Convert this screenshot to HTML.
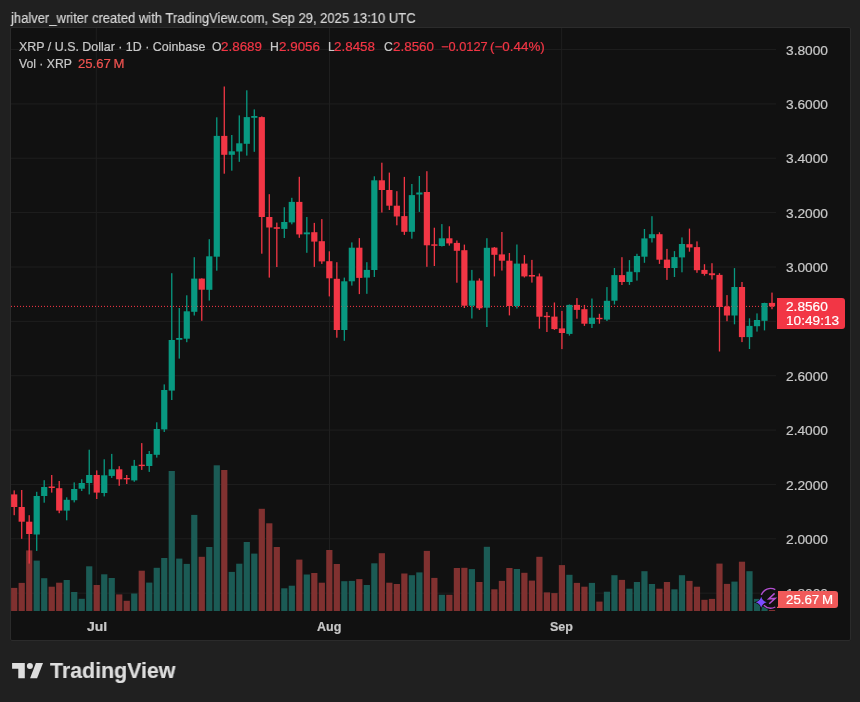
<!DOCTYPE html>
<html><head><meta charset="utf-8">
<style>
*{margin:0;padding:0;box-sizing:border-box}
html,body{width:860px;height:702px;overflow:hidden;background:#202020;font-family:"Liberation Sans",Arial,sans-serif}
.t{position:absolute;white-space:nowrap;line-height:1;transform-origin:0 0;will-change:transform;-webkit-text-stroke:0.2px currentColor}
.abs{position:absolute}
#box{position:absolute;left:10px;top:27px;width:841px;height:614px;border:1px solid #2b2b2b;border-radius:2px;background:#111111}
</style></head><body>
<div id="box"></div>
<svg width="860" height="702" style="position:absolute;left:0;top:0">
<defs><clipPath id="cp"><rect x="11" y="28" width="765" height="583"/></clipPath></defs>
<g clip-path="url(#cp)">
<line x1="11" y1="49.55" x2="776" y2="49.55" stroke="#1f1f1f" stroke-width="1"/>
<line x1="11" y1="103.91" x2="776" y2="103.91" stroke="#1f1f1f" stroke-width="1"/>
<line x1="11" y1="158.27" x2="776" y2="158.27" stroke="#1f1f1f" stroke-width="1"/>
<line x1="11" y1="212.63" x2="776" y2="212.63" stroke="#1f1f1f" stroke-width="1"/>
<line x1="11" y1="266.99" x2="776" y2="266.99" stroke="#1f1f1f" stroke-width="1"/>
<line x1="11" y1="321.35" x2="776" y2="321.35" stroke="#1f1f1f" stroke-width="1"/>
<line x1="11" y1="375.71" x2="776" y2="375.71" stroke="#1f1f1f" stroke-width="1"/>
<line x1="11" y1="430.07" x2="776" y2="430.07" stroke="#1f1f1f" stroke-width="1"/>
<line x1="11" y1="484.43" x2="776" y2="484.43" stroke="#1f1f1f" stroke-width="1"/>
<line x1="11" y1="538.79" x2="776" y2="538.79" stroke="#1f1f1f" stroke-width="1"/>
<line x1="11" y1="593.15" x2="776" y2="593.15" stroke="#1f1f1f" stroke-width="1"/>
<line x1="96.3" y1="28" x2="96.3" y2="611" stroke="#1f1f1f" stroke-width="1"/>
<line x1="329.5" y1="28" x2="329.5" y2="611" stroke="#1f1f1f" stroke-width="1"/>
<line x1="561.7" y1="28" x2="561.7" y2="611" stroke="#1f1f1f" stroke-width="1"/>
<rect x="11.1" y="587.9" width="6.2" height="23.1" fill="#803130"/>
<rect x="18.6" y="582.9" width="6.2" height="28.1" fill="#803130"/>
<rect x="26.11" y="550.4" width="6.2" height="60.6" fill="#803130"/>
<rect x="33.61" y="560.6" width="6.2" height="50.4" fill="#1b5b55"/>
<rect x="41.11" y="578.2" width="6.2" height="32.8" fill="#1b5b55"/>
<rect x="48.62" y="586.7" width="6.2" height="24.3" fill="#803130"/>
<rect x="56.12" y="582.7" width="6.2" height="28.3" fill="#803130"/>
<rect x="63.62" y="580" width="6.2" height="31" fill="#1b5b55"/>
<rect x="71.12" y="592" width="6.2" height="19" fill="#1b5b55"/>
<rect x="78.63" y="598.8" width="6.2" height="12.2" fill="#1b5b55"/>
<rect x="86.13" y="566.3" width="6.2" height="44.7" fill="#1b5b55"/>
<rect x="93.63" y="585" width="6.2" height="26" fill="#803130"/>
<rect x="101.14" y="574.3" width="6.2" height="36.7" fill="#1b5b55"/>
<rect x="108.64" y="578" width="6.2" height="33" fill="#1b5b55"/>
<rect x="116.14" y="594.4" width="6.2" height="16.6" fill="#803130"/>
<rect x="123.65" y="600.8" width="6.2" height="10.2" fill="#803130"/>
<rect x="131.15" y="593.5" width="6.2" height="17.5" fill="#1b5b55"/>
<rect x="138.65" y="570.7" width="6.2" height="40.3" fill="#803130"/>
<rect x="146.15" y="582.6" width="6.2" height="28.4" fill="#1b5b55"/>
<rect x="153.66" y="567.8" width="6.2" height="43.2" fill="#1b5b55"/>
<rect x="161.16" y="558" width="6.2" height="53" fill="#1b5b55"/>
<rect x="168.66" y="471" width="6.2" height="140" fill="#1b5b55"/>
<rect x="176.17" y="558.6" width="6.2" height="52.4" fill="#1b5b55"/>
<rect x="183.67" y="563.9" width="6.2" height="47.1" fill="#1b5b55"/>
<rect x="191.17" y="514.9" width="6.2" height="96.1" fill="#1b5b55"/>
<rect x="198.67" y="556.8" width="6.2" height="54.2" fill="#803130"/>
<rect x="206.18" y="547" width="6.2" height="64" fill="#1b5b55"/>
<rect x="213.68" y="465.3" width="6.2" height="145.7" fill="#1b5b55"/>
<rect x="221.18" y="470" width="6.2" height="141" fill="#803130"/>
<rect x="228.69" y="571.9" width="6.2" height="39.1" fill="#1b5b55"/>
<rect x="236.19" y="563.7" width="6.2" height="47.3" fill="#1b5b55"/>
<rect x="243.69" y="542" width="6.2" height="69" fill="#1b5b55"/>
<rect x="251.2" y="553.6" width="6.2" height="57.4" fill="#1b5b55"/>
<rect x="258.7" y="508.8" width="6.2" height="102.2" fill="#803130"/>
<rect x="266.2" y="523.3" width="6.2" height="87.7" fill="#803130"/>
<rect x="273.7" y="547" width="6.2" height="64" fill="#803130"/>
<rect x="281.21" y="588.3" width="6.2" height="22.7" fill="#1b5b55"/>
<rect x="288.71" y="585.7" width="6.2" height="25.3" fill="#1b5b55"/>
<rect x="296.21" y="559.6" width="6.2" height="51.4" fill="#803130"/>
<rect x="303.72" y="574.5" width="6.2" height="36.5" fill="#1b5b55"/>
<rect x="311.22" y="573" width="6.2" height="38" fill="#803130"/>
<rect x="318.72" y="582.7" width="6.2" height="28.3" fill="#803130"/>
<rect x="326.23" y="550" width="6.2" height="61" fill="#803130"/>
<rect x="333.73" y="564" width="6.2" height="47" fill="#803130"/>
<rect x="341.23" y="581.2" width="6.2" height="29.8" fill="#1b5b55"/>
<rect x="348.73" y="580.9" width="6.2" height="30.1" fill="#1b5b55"/>
<rect x="356.24" y="579.1" width="6.2" height="31.9" fill="#803130"/>
<rect x="363.74" y="585" width="6.2" height="26" fill="#1b5b55"/>
<rect x="371.24" y="563.3" width="6.2" height="47.7" fill="#1b5b55"/>
<rect x="378.75" y="553.2" width="6.2" height="57.8" fill="#803130"/>
<rect x="386.25" y="582.7" width="6.2" height="28.3" fill="#803130"/>
<rect x="393.75" y="584" width="6.2" height="27" fill="#803130"/>
<rect x="401.26" y="573.5" width="6.2" height="37.5" fill="#803130"/>
<rect x="408.76" y="575.2" width="6.2" height="35.8" fill="#1b5b55"/>
<rect x="416.26" y="572.4" width="6.2" height="38.6" fill="#1b5b55"/>
<rect x="423.76" y="550.9" width="6.2" height="60.1" fill="#803130"/>
<rect x="431.27" y="577.9" width="6.2" height="33.1" fill="#803130"/>
<rect x="438.77" y="594.8" width="6.2" height="16.2" fill="#1b5b55"/>
<rect x="446.27" y="594.8" width="6.2" height="16.2" fill="#803130"/>
<rect x="453.78" y="568" width="6.2" height="43" fill="#803130"/>
<rect x="461.28" y="567.8" width="6.2" height="43.2" fill="#803130"/>
<rect x="468.78" y="569.1" width="6.2" height="41.9" fill="#1b5b55"/>
<rect x="476.29" y="582" width="6.2" height="29" fill="#803130"/>
<rect x="483.79" y="546.8" width="6.2" height="64.2" fill="#1b5b55"/>
<rect x="491.29" y="589.3" width="6.2" height="21.7" fill="#803130"/>
<rect x="498.79" y="580.9" width="6.2" height="30.1" fill="#803130"/>
<rect x="506.3" y="568" width="6.2" height="43" fill="#803130"/>
<rect x="513.8" y="569" width="6.2" height="42" fill="#1b5b55"/>
<rect x="521.3" y="572.8" width="6.2" height="38.2" fill="#803130"/>
<rect x="528.81" y="580.6" width="6.2" height="30.4" fill="#803130"/>
<rect x="536.31" y="556.8" width="6.2" height="54.2" fill="#803130"/>
<rect x="543.81" y="592.4" width="6.2" height="18.6" fill="#803130"/>
<rect x="551.32" y="593.1" width="6.2" height="17.9" fill="#803130"/>
<rect x="558.82" y="565.1" width="6.2" height="45.9" fill="#803130"/>
<rect x="566.32" y="574.8" width="6.2" height="36.2" fill="#1b5b55"/>
<rect x="573.83" y="582.9" width="6.2" height="28.1" fill="#803130"/>
<rect x="581.33" y="586.7" width="6.2" height="24.3" fill="#803130"/>
<rect x="588.83" y="582.9" width="6.2" height="28.1" fill="#1b5b55"/>
<rect x="596.33" y="601.6" width="6.2" height="9.4" fill="#803130"/>
<rect x="603.84" y="591.7" width="6.2" height="19.3" fill="#1b5b55"/>
<rect x="611.34" y="575.2" width="6.2" height="35.8" fill="#1b5b55"/>
<rect x="618.84" y="579.9" width="6.2" height="31.1" fill="#803130"/>
<rect x="626.35" y="588.7" width="6.2" height="22.3" fill="#1b5b55"/>
<rect x="633.85" y="582" width="6.2" height="29" fill="#1b5b55"/>
<rect x="641.35" y="571.2" width="6.2" height="39.8" fill="#1b5b55"/>
<rect x="648.86" y="584" width="6.2" height="27" fill="#1b5b55"/>
<rect x="656.36" y="588.7" width="6.2" height="22.3" fill="#803130"/>
<rect x="663.86" y="582" width="6.2" height="29" fill="#803130"/>
<rect x="671.36" y="589.3" width="6.2" height="21.7" fill="#1b5b55"/>
<rect x="678.87" y="575.2" width="6.2" height="35.8" fill="#1b5b55"/>
<rect x="686.37" y="580.9" width="6.2" height="30.1" fill="#803130"/>
<rect x="693.87" y="586.7" width="6.2" height="24.3" fill="#803130"/>
<rect x="701.38" y="599.8" width="6.2" height="11.2" fill="#803130"/>
<rect x="708.88" y="598.9" width="6.2" height="12.1" fill="#803130"/>
<rect x="716.38" y="563.6" width="6.2" height="47.4" fill="#803130"/>
<rect x="723.88" y="583.9" width="6.2" height="27.1" fill="#803130"/>
<rect x="731.39" y="581.6" width="6.2" height="29.4" fill="#1b5b55"/>
<rect x="738.89" y="561.7" width="6.2" height="49.3" fill="#803130"/>
<rect x="746.39" y="571.2" width="6.2" height="39.8" fill="#1b5b55"/>
<rect x="753.9" y="598.9" width="6.2" height="12.1" fill="#1b5b55"/>
<rect x="761.4" y="606.6" width="6.2" height="4.4" fill="#1b5b55"/>
<rect x="768.9" y="610" width="6.2" height="1" fill="#803130"/>
<line x1="11" y1="306.4" x2="776" y2="306.4" stroke="#f23645" stroke-width="1" stroke-dasharray="1 2"/>
<rect x="13.55" y="490.4" width="1.3" height="24.8" fill="#f23645"/>
<rect x="11.1" y="494.4" width="6.2" height="12.6" fill="#f23645"/>
<rect x="21.05" y="490" width="1.3" height="48.8" fill="#f23645"/>
<rect x="18.6" y="507" width="6.2" height="14.7" fill="#f23645"/>
<rect x="28.56" y="515.2" width="1.3" height="48.4" fill="#f23645"/>
<rect x="26.11" y="521.7" width="6.2" height="12.3" fill="#f23645"/>
<rect x="36.06" y="491.8" width="1.3" height="59.1" fill="#089981"/>
<rect x="33.61" y="496" width="6.2" height="38.5" fill="#089981"/>
<rect x="43.56" y="480.2" width="1.3" height="22.5" fill="#089981"/>
<rect x="41.11" y="487" width="6.2" height="9" fill="#089981"/>
<rect x="51.07" y="475" width="1.3" height="17.6" fill="#f23645"/>
<rect x="48.62" y="486.5" width="6.2" height="1.5" fill="#f23645"/>
<rect x="58.57" y="481" width="1.3" height="32.2" fill="#f23645"/>
<rect x="56.12" y="488.2" width="6.2" height="22.4" fill="#f23645"/>
<rect x="66.07" y="497.3" width="1.3" height="23" fill="#089981"/>
<rect x="63.62" y="499.8" width="6.2" height="10.8" fill="#089981"/>
<rect x="73.57" y="482.4" width="1.3" height="20" fill="#089981"/>
<rect x="71.12" y="489" width="6.2" height="11.2" fill="#089981"/>
<rect x="81.08" y="479.3" width="1.3" height="11.7" fill="#089981"/>
<rect x="78.63" y="483" width="6.2" height="5.7" fill="#089981"/>
<rect x="88.58" y="449.7" width="1.3" height="44.7" fill="#089981"/>
<rect x="86.13" y="475" width="6.2" height="8" fill="#089981"/>
<rect x="96.08" y="470.4" width="1.3" height="28.6" fill="#f23645"/>
<rect x="93.63" y="475" width="6.2" height="17.6" fill="#f23645"/>
<rect x="103.59" y="459.3" width="1.3" height="37.1" fill="#089981"/>
<rect x="101.14" y="475.3" width="6.2" height="17.7" fill="#089981"/>
<rect x="111.09" y="453.9" width="1.3" height="24" fill="#089981"/>
<rect x="108.64" y="469.3" width="6.2" height="6.6" fill="#089981"/>
<rect x="118.59" y="466.2" width="1.3" height="19.6" fill="#f23645"/>
<rect x="116.14" y="469.3" width="6.2" height="10" fill="#f23645"/>
<rect x="126.09" y="475" width="1.3" height="9" fill="#f23645"/>
<rect x="123.65" y="478" width="6.2" height="1.4" fill="#f23645"/>
<rect x="133.6" y="459.9" width="1.3" height="21.9" fill="#089981"/>
<rect x="131.15" y="465.8" width="6.2" height="14.6" fill="#089981"/>
<rect x="141.1" y="443.1" width="1.3" height="26.8" fill="#f23645"/>
<rect x="138.65" y="464.7" width="6.2" height="1.4" fill="#f23645"/>
<rect x="148.6" y="451" width="1.3" height="20.9" fill="#089981"/>
<rect x="146.15" y="454" width="6.2" height="12" fill="#089981"/>
<rect x="156.11" y="422.3" width="1.3" height="35.3" fill="#089981"/>
<rect x="153.66" y="429" width="6.2" height="25.8" fill="#089981"/>
<rect x="163.61" y="384.4" width="1.3" height="47.6" fill="#089981"/>
<rect x="161.16" y="390" width="6.2" height="39.4" fill="#089981"/>
<rect x="171.11" y="273.2" width="1.3" height="126.8" fill="#089981"/>
<rect x="168.66" y="340" width="6.2" height="50.6" fill="#089981"/>
<rect x="178.62" y="308" width="1.3" height="50.6" fill="#089981"/>
<rect x="176.17" y="338" width="6.2" height="1.8" fill="#089981"/>
<rect x="186.12" y="295.3" width="1.3" height="46.9" fill="#089981"/>
<rect x="183.67" y="311.3" width="6.2" height="27.4" fill="#089981"/>
<rect x="193.62" y="257.2" width="1.3" height="58.3" fill="#089981"/>
<rect x="191.17" y="278.6" width="6.2" height="33.2" fill="#089981"/>
<rect x="201.12" y="278.3" width="1.3" height="42.5" fill="#f23645"/>
<rect x="198.67" y="278.6" width="6.2" height="11.1" fill="#f23645"/>
<rect x="208.63" y="239.2" width="1.3" height="61.4" fill="#089981"/>
<rect x="206.18" y="256.3" width="6.2" height="33.5" fill="#089981"/>
<rect x="216.13" y="117.3" width="1.3" height="153.4" fill="#089981"/>
<rect x="213.68" y="135.9" width="6.2" height="120.8" fill="#089981"/>
<rect x="223.63" y="86.5" width="1.3" height="87.2" fill="#f23645"/>
<rect x="221.18" y="135.9" width="6.2" height="18.9" fill="#f23645"/>
<rect x="231.14" y="135" width="1.3" height="35.7" fill="#089981"/>
<rect x="228.69" y="151.3" width="6.2" height="3.5" fill="#089981"/>
<rect x="238.64" y="115.4" width="1.3" height="46.4" fill="#089981"/>
<rect x="236.19" y="143.3" width="6.2" height="8.2" fill="#089981"/>
<rect x="246.14" y="90.3" width="1.3" height="65.3" fill="#089981"/>
<rect x="243.69" y="117.1" width="6.2" height="26.7" fill="#089981"/>
<rect x="253.65" y="109.4" width="1.3" height="42.4" fill="#089981"/>
<rect x="251.2" y="116" width="6.2" height="1.8" fill="#089981"/>
<rect x="261.15" y="116.4" width="1.3" height="137.3" fill="#f23645"/>
<rect x="258.7" y="117.1" width="6.2" height="99.9" fill="#f23645"/>
<rect x="268.65" y="194.2" width="1.3" height="83.4" fill="#f23645"/>
<rect x="266.2" y="217" width="6.2" height="10.5" fill="#f23645"/>
<rect x="276.16" y="222.6" width="1.3" height="44.4" fill="#f23645"/>
<rect x="273.7" y="227.2" width="6.2" height="1.6" fill="#f23645"/>
<rect x="283.66" y="207.2" width="1.3" height="30.8" fill="#089981"/>
<rect x="281.21" y="222" width="6.2" height="6.9" fill="#089981"/>
<rect x="291.16" y="197.8" width="1.3" height="26.5" fill="#089981"/>
<rect x="288.71" y="201.9" width="6.2" height="20.5" fill="#089981"/>
<rect x="298.66" y="176.8" width="1.3" height="61" fill="#f23645"/>
<rect x="296.21" y="201.9" width="6.2" height="32.5" fill="#f23645"/>
<rect x="306.17" y="217" width="1.3" height="35.8" fill="#089981"/>
<rect x="303.72" y="232.4" width="6.2" height="1.9" fill="#089981"/>
<rect x="313.67" y="222.9" width="1.3" height="44" fill="#f23645"/>
<rect x="311.22" y="232.2" width="6.2" height="9.4" fill="#f23645"/>
<rect x="321.17" y="219.1" width="1.3" height="44.8" fill="#f23645"/>
<rect x="318.72" y="241.2" width="6.2" height="20.2" fill="#f23645"/>
<rect x="328.68" y="251.3" width="1.3" height="45.1" fill="#f23645"/>
<rect x="326.23" y="261.2" width="6.2" height="17.1" fill="#f23645"/>
<rect x="336.18" y="262.2" width="1.3" height="75.5" fill="#f23645"/>
<rect x="333.73" y="278.8" width="6.2" height="51.2" fill="#f23645"/>
<rect x="343.68" y="277.6" width="1.3" height="63.2" fill="#089981"/>
<rect x="341.23" y="281.3" width="6.2" height="48.7" fill="#089981"/>
<rect x="351.19" y="242.4" width="1.3" height="43.2" fill="#089981"/>
<rect x="348.73" y="247.7" width="6.2" height="33.6" fill="#089981"/>
<rect x="358.69" y="238.1" width="1.3" height="56" fill="#f23645"/>
<rect x="356.24" y="247.7" width="6.2" height="30.2" fill="#f23645"/>
<rect x="366.19" y="262.2" width="1.3" height="31.6" fill="#089981"/>
<rect x="363.74" y="269.9" width="6.2" height="7.7" fill="#089981"/>
<rect x="373.69" y="176.3" width="1.3" height="100.7" fill="#089981"/>
<rect x="371.24" y="180.3" width="6.2" height="89.7" fill="#089981"/>
<rect x="381.2" y="162.7" width="1.3" height="49.8" fill="#f23645"/>
<rect x="378.75" y="180.3" width="6.2" height="9.7" fill="#f23645"/>
<rect x="388.7" y="172.6" width="1.3" height="37.4" fill="#f23645"/>
<rect x="386.25" y="190" width="6.2" height="15.7" fill="#f23645"/>
<rect x="396.2" y="191.2" width="1.3" height="34.1" fill="#f23645"/>
<rect x="393.75" y="205.7" width="6.2" height="10.8" fill="#f23645"/>
<rect x="403.71" y="176.9" width="1.3" height="58" fill="#f23645"/>
<rect x="401.26" y="216.1" width="6.2" height="15.7" fill="#f23645"/>
<rect x="411.21" y="184" width="1.3" height="54.7" fill="#089981"/>
<rect x="408.76" y="195.1" width="6.2" height="36.7" fill="#089981"/>
<rect x="418.71" y="176" width="1.3" height="35.9" fill="#089981"/>
<rect x="416.26" y="192.5" width="6.2" height="2" fill="#089981"/>
<rect x="426.22" y="171.2" width="1.3" height="95.6" fill="#f23645"/>
<rect x="423.76" y="192" width="6.2" height="53.3" fill="#f23645"/>
<rect x="433.72" y="227.7" width="1.3" height="38.3" fill="#f23645"/>
<rect x="431.27" y="244.3" width="6.2" height="1.5" fill="#f23645"/>
<rect x="441.22" y="224.1" width="1.3" height="22.4" fill="#089981"/>
<rect x="438.77" y="238.3" width="6.2" height="7.7" fill="#089981"/>
<rect x="448.72" y="226.3" width="1.3" height="19.3" fill="#f23645"/>
<rect x="446.27" y="238.3" width="6.2" height="5.1" fill="#f23645"/>
<rect x="456.23" y="240.5" width="1.3" height="42.2" fill="#f23645"/>
<rect x="453.78" y="242.9" width="6.2" height="7.9" fill="#f23645"/>
<rect x="463.73" y="244.6" width="1.3" height="63.4" fill="#f23645"/>
<rect x="461.28" y="250.2" width="6.2" height="55.5" fill="#f23645"/>
<rect x="471.23" y="269.9" width="1.3" height="48.6" fill="#089981"/>
<rect x="468.78" y="280.6" width="6.2" height="25.1" fill="#089981"/>
<rect x="478.74" y="278.4" width="1.3" height="31.6" fill="#f23645"/>
<rect x="476.29" y="280.6" width="6.2" height="27.7" fill="#f23645"/>
<rect x="486.24" y="238.2" width="1.3" height="88.8" fill="#089981"/>
<rect x="483.79" y="247.8" width="6.2" height="59.9" fill="#089981"/>
<rect x="493.74" y="247" width="1.3" height="29.4" fill="#f23645"/>
<rect x="491.29" y="247.6" width="6.2" height="7.2" fill="#f23645"/>
<rect x="501.25" y="232" width="1.3" height="38.6" fill="#f23645"/>
<rect x="498.79" y="254.4" width="6.2" height="6.3" fill="#f23645"/>
<rect x="508.75" y="253" width="1.3" height="62.4" fill="#f23645"/>
<rect x="506.3" y="260.7" width="6.2" height="45.3" fill="#f23645"/>
<rect x="516.25" y="244.5" width="1.3" height="64" fill="#089981"/>
<rect x="513.8" y="263.6" width="6.2" height="42.4" fill="#089981"/>
<rect x="523.75" y="255.1" width="1.3" height="22.4" fill="#f23645"/>
<rect x="521.3" y="263.6" width="6.2" height="12.8" fill="#f23645"/>
<rect x="531.26" y="259.9" width="1.3" height="22.7" fill="#f23645"/>
<rect x="528.81" y="275" width="6.2" height="1.6" fill="#f23645"/>
<rect x="538.76" y="273.5" width="1.3" height="55.2" fill="#f23645"/>
<rect x="536.31" y="276.4" width="6.2" height="40.3" fill="#f23645"/>
<rect x="546.26" y="312" width="1.3" height="20" fill="#f23645"/>
<rect x="543.81" y="315.8" width="6.2" height="1.4" fill="#f23645"/>
<rect x="553.77" y="302.5" width="1.3" height="27.4" fill="#f23645"/>
<rect x="551.32" y="316.6" width="6.2" height="12.5" fill="#f23645"/>
<rect x="561.27" y="310.9" width="1.3" height="38.2" fill="#f23645"/>
<rect x="558.82" y="328.4" width="6.2" height="4.6" fill="#f23645"/>
<rect x="568.77" y="304.5" width="1.3" height="31.1" fill="#089981"/>
<rect x="566.32" y="304.9" width="6.2" height="29" fill="#089981"/>
<rect x="576.28" y="298.1" width="1.3" height="20.6" fill="#f23645"/>
<rect x="573.83" y="304.9" width="6.2" height="5" fill="#f23645"/>
<rect x="583.78" y="304.9" width="1.3" height="21" fill="#f23645"/>
<rect x="581.33" y="309.2" width="6.2" height="14.5" fill="#f23645"/>
<rect x="591.28" y="298.5" width="1.3" height="29.5" fill="#089981"/>
<rect x="588.83" y="317.7" width="6.2" height="6.2" fill="#089981"/>
<rect x="598.78" y="313.8" width="1.3" height="9.9" fill="#f23645"/>
<rect x="596.33" y="317.8" width="6.2" height="1.4" fill="#f23645"/>
<rect x="606.29" y="287.1" width="1.3" height="33.9" fill="#089981"/>
<rect x="603.84" y="300.8" width="6.2" height="18.8" fill="#089981"/>
<rect x="613.79" y="268" width="1.3" height="36.5" fill="#089981"/>
<rect x="611.34" y="275.1" width="6.2" height="25.6" fill="#089981"/>
<rect x="621.29" y="257.2" width="1.3" height="27.8" fill="#f23645"/>
<rect x="618.84" y="275.1" width="6.2" height="6.9" fill="#f23645"/>
<rect x="628.8" y="260.1" width="1.3" height="24.8" fill="#089981"/>
<rect x="626.35" y="271.7" width="6.2" height="10.3" fill="#089981"/>
<rect x="636.3" y="253.8" width="1.3" height="26.8" fill="#089981"/>
<rect x="633.85" y="256" width="6.2" height="16.2" fill="#089981"/>
<rect x="643.8" y="229" width="1.3" height="33.8" fill="#089981"/>
<rect x="641.35" y="238.4" width="6.2" height="18.3" fill="#089981"/>
<rect x="651.31" y="216.2" width="1.3" height="26.3" fill="#089981"/>
<rect x="648.86" y="234.2" width="6.2" height="4" fill="#089981"/>
<rect x="658.81" y="232.3" width="1.3" height="31.6" fill="#f23645"/>
<rect x="656.36" y="234.2" width="6.2" height="25.5" fill="#f23645"/>
<rect x="666.31" y="248.9" width="1.3" height="31" fill="#f23645"/>
<rect x="663.86" y="259.6" width="6.2" height="8.4" fill="#f23645"/>
<rect x="673.81" y="251.1" width="1.3" height="25.9" fill="#089981"/>
<rect x="671.36" y="257.1" width="6.2" height="10.9" fill="#089981"/>
<rect x="681.32" y="237.4" width="1.3" height="34.9" fill="#089981"/>
<rect x="678.87" y="244" width="6.2" height="13.4" fill="#089981"/>
<rect x="688.82" y="228.6" width="1.3" height="23.1" fill="#f23645"/>
<rect x="686.37" y="244.2" width="6.2" height="3.3" fill="#f23645"/>
<rect x="696.32" y="241.4" width="1.3" height="31.4" fill="#f23645"/>
<rect x="693.87" y="247.1" width="6.2" height="23.1" fill="#f23645"/>
<rect x="703.83" y="264.2" width="1.3" height="11.4" fill="#f23645"/>
<rect x="701.38" y="269.9" width="6.2" height="4" fill="#f23645"/>
<rect x="711.33" y="263.2" width="1.3" height="16.3" fill="#f23645"/>
<rect x="708.88" y="273.3" width="6.2" height="1.9" fill="#f23645"/>
<rect x="718.83" y="273.2" width="1.3" height="78.3" fill="#f23645"/>
<rect x="716.38" y="274.9" width="6.2" height="32.1" fill="#f23645"/>
<rect x="726.34" y="295.1" width="1.3" height="26.1" fill="#f23645"/>
<rect x="723.88" y="306.5" width="6.2" height="9" fill="#f23645"/>
<rect x="733.84" y="268.1" width="1.3" height="56.2" fill="#089981"/>
<rect x="731.39" y="287" width="6.2" height="28.5" fill="#089981"/>
<rect x="741.34" y="282" width="1.3" height="60.1" fill="#f23645"/>
<rect x="738.89" y="287" width="6.2" height="50.1" fill="#f23645"/>
<rect x="748.84" y="318.3" width="1.3" height="30.7" fill="#089981"/>
<rect x="746.39" y="325.9" width="6.2" height="11.2" fill="#089981"/>
<rect x="756.35" y="313.4" width="1.3" height="18.2" fill="#089981"/>
<rect x="753.9" y="320" width="6.2" height="6.2" fill="#089981"/>
<rect x="763.85" y="302.7" width="1.3" height="27.7" fill="#089981"/>
<rect x="761.4" y="303" width="6.2" height="17.8" fill="#089981"/>
<rect x="771.35" y="292.6" width="1.3" height="16.6" fill="#f23645"/>
<rect x="768.9" y="302.9" width="6.2" height="3.5" fill="#f23645"/>
<line x1="11" y1="306.4" x2="776" y2="306.4" stroke="#f23645" stroke-width="1" stroke-dasharray="1 2" opacity="0.3"/>
</g>
</svg>
<div class="abs" style="left:777px;top:297.7px;width:67.6px;height:31.4px;background:#f23645;border-radius:0 3px 3px 0"></div>
<div class="t" style="left:785.8px;top:586.6px;font-size:13px;color:#c8c8c8;transform:scaleX(1.056)">1.8000</div>
<div class="abs" style="left:777px;top:590.6px;width:60.8px;height:17.2px;background:#f05a5a;border-radius:0 3px 3px 0"></div>
<svg class="abs" style="left:750px;top:584px" width="28" height="28" viewBox="750 584 28 28">
<circle cx="770.6" cy="598.3" r="11" fill="#111111"/>
<path d="M775.3 589.6 A9.9 9.9 0 0 0 761.3 595 M763.8 605.2 A9.9 9.9 0 0 0 775.3 607" fill="none" stroke="#b24fd0" stroke-width="1.4"/>
<path d="M774.6 593.4 L768.8 598.8 L775.2 598.4 L769.2 603.8" fill="none" stroke="#b24fd0" stroke-width="1.5" stroke-linejoin="miter"/>
<path d="M761.2 596.8 Q762.4 601.1 766.7 602.3 Q762.4 603.5 761.2 607.8 Q760.0 603.5 755.7 602.3 Q760.0 601.1 761.2 596.8Z" fill="#7b4dff" stroke="#111111" stroke-width="1.2" paint-order="stroke"/>
</svg>
<svg class="abs" style="left:12px;top:662px" width="32" height="17" viewBox="12 662 32 17">
<path d="M12.1 663 H24.8 V678.3 H18.3 V668.8 H12.1Z" fill="#dedede"/>
<circle cx="29.9" cy="665.9" r="3" fill="#dedede"/>
<path d="M35.9 663 H43 L37.1 678.3 H30.1Z" fill="#dedede"/>
</svg>
<div class="t" style="left:10.8px;top:11.45px;font-size:14px;font-weight:400;color:#d6d6d6;transform:scaleX(0.9290)">jhalver_writer created with TradingView.com, Sep 29, 2025 13:10 UTC</div>
<div class="t" style="left:18.5px;top:40.57px;font-size:12.2px;font-weight:400;color:#c8c8c8;transform:scaleX(1.0200)">XRP / U.S. Dollar · 1D · Coinbase</div>
<div class="t" style="left:211.6px;top:40.57px;font-size:12.2px;font-weight:400;color:#c8c8c8">O</div>
<div class="t" style="left:221.2px;top:40.57px;font-size:12.2px;font-weight:400;color:#f23645;transform:scaleX(1.1000)">2.8689</div>
<div class="t" style="left:270.4px;top:40.57px;font-size:12.2px;font-weight:400;color:#c8c8c8">H</div>
<div class="t" style="left:279.1px;top:40.57px;font-size:12.2px;font-weight:400;color:#f23645;transform:scaleX(1.1000)">2.9056</div>
<div class="t" style="left:328.3px;top:40.57px;font-size:12.2px;font-weight:400;color:#c8c8c8">L</div>
<div class="t" style="left:334.2px;top:40.57px;font-size:12.2px;font-weight:400;color:#f23645;transform:scaleX(1.1000)">2.8458</div>
<div class="t" style="left:383.7px;top:40.57px;font-size:12.2px;font-weight:400;color:#c8c8c8">C</div>
<div class="t" style="left:392.5px;top:40.57px;font-size:12.2px;font-weight:400;color:#f23645;transform:scaleX(1.1000)">2.8560</div>
<div class="t" style="left:441.2px;top:40.57px;font-size:12.2px;font-weight:400;color:#f23645;transform:scaleX(1.0500)">−0.0127</div>
<div class="t" style="left:490.4px;top:40.57px;font-size:12.2px;font-weight:400;color:#f23645;transform:scaleX(1.1000)">(−0.44%)</div>
<div class="t" style="left:18.7px;top:57.87px;font-size:12.2px;font-weight:400;color:#c8c8c8">Vol · XRP</div>
<div class="t" style="left:78.4px;top:57.87px;font-size:12.2px;font-weight:400;color:#ef5350;transform:scaleX(1.0780)">25.67 M</div>
<div class="t" style="left:785.8px;top:43.6px;font-size:13px;font-weight:400;color:#c8c8c8;transform:scaleX(1.0560)">3.8000</div>
<div class="t" style="left:785.8px;top:98px;font-size:13px;font-weight:400;color:#c8c8c8;transform:scaleX(1.0560)">3.6000</div>
<div class="t" style="left:785.8px;top:152.3px;font-size:13px;font-weight:400;color:#c8c8c8;transform:scaleX(1.0560)">3.4000</div>
<div class="t" style="left:785.8px;top:206.7px;font-size:13px;font-weight:400;color:#c8c8c8;transform:scaleX(1.0560)">3.2000</div>
<div class="t" style="left:785.8px;top:261px;font-size:13px;font-weight:400;color:#c8c8c8;transform:scaleX(1.0560)">3.0000</div>
<div class="t" style="left:785.8px;top:369.8px;font-size:13px;font-weight:400;color:#c8c8c8;transform:scaleX(1.0560)">2.6000</div>
<div class="t" style="left:785.8px;top:424.1px;font-size:13px;font-weight:400;color:#c8c8c8;transform:scaleX(1.0560)">2.4000</div>
<div class="t" style="left:785.8px;top:478.5px;font-size:13px;font-weight:400;color:#c8c8c8;transform:scaleX(1.0560)">2.2000</div>
<div class="t" style="left:785.8px;top:532.9px;font-size:13px;font-weight:400;color:#c8c8c8;transform:scaleX(1.0560)">2.0000</div>
<div class="t" style="left:786px;top:299.7px;font-size:13px;font-weight:400;color:#ffffff;transform:scaleX(1.0500)">2.8560</div>
<div class="t" style="left:786px;top:314.3px;font-size:13px;font-weight:400;color:#ffffff;transform:scaleX(1.0500)">10:49:13</div>
<div class="t" style="left:786.1px;top:594.02px;font-size:12.5px;font-weight:400;color:#ffffff;transform:scaleX(1.0630)">25.67 M</div>
<div class="t" style="left:87px;top:620.92px;font-size:12.5px;font-weight:700;color:#c8c8c8;transform:scaleX(1.1200)">Jul</div>
<div class="t" style="left:316.8px;top:620.92px;font-size:12.5px;font-weight:700;color:#c8c8c8">Aug</div>
<div class="t" style="left:550px;top:620.92px;font-size:12.5px;font-weight:700;color:#c8c8c8">Sep</div>
<div class="t" style="left:49.6px;top:659.65px;font-size:22.5px;font-weight:700;color:#dedede;transform:scaleX(0.9500)">TradingView</div>
</body></html>
